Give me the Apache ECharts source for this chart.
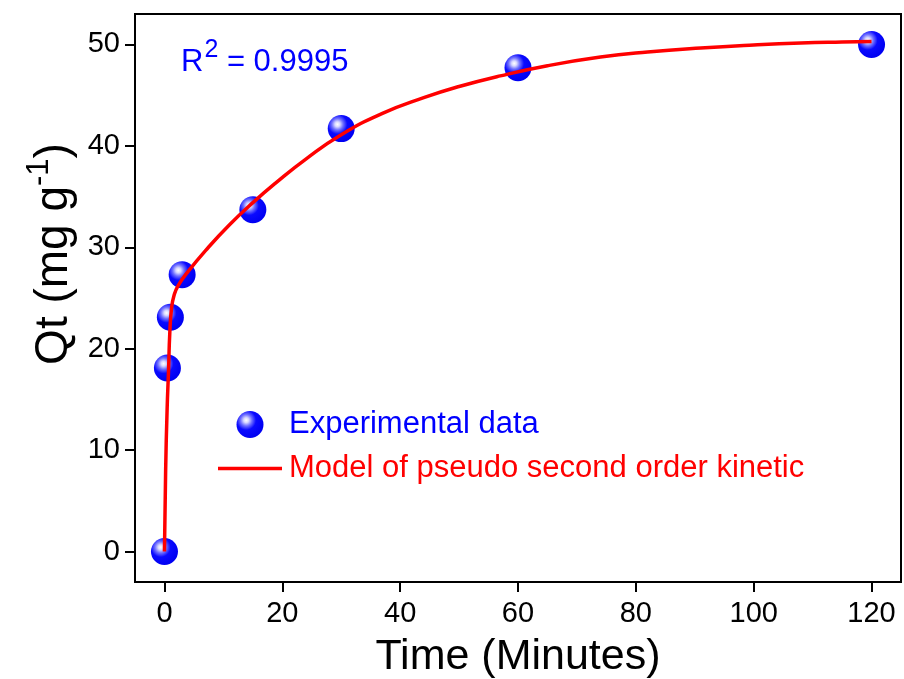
<!DOCTYPE html>
<html>
<head>
<meta charset="utf-8">
<script src="https://cdn.jsdelivr.net/npm/echarts@6/dist/echarts.min.js"></script>
<style>
  html, body { margin: 0; padding: 0; background: #ffffff; }
  #chart { width: 904px; height: 679px; }
</style>
</head>
<body>
<div id="chart"></div>
<script>
// Adsorption kinetics: measured uptake vs. contact time
const timeMinutes = [0, 0.5, 1, 3, 15, 30, 60, 120];
const qtMeasured = [0, 18.1, 23.1, 27.3, 33.7, 41.7, 47.7, 50.0];

// Fitted pseudo-second-order curve, sampled along the time axis
const modelTime = [0, 0.2, 0.45, 0.7, 0.9, 1.2, 1.6, 2.3, 4, 7, 11, 15, 19, 24, 30, 37, 44, 50, 57, 65, 74, 82, 91, 100, 108, 115, 120];
const modelQt = [0, 8, 14, 18, 21.5, 24, 25.2, 26.2, 27.6, 29.7, 32.2, 34.4, 36.4, 38.7, 41.1, 43.2, 44.75, 45.85, 46.9, 47.9, 48.75, 49.25, 49.65, 49.95, 50.15, 50.25, 50.3];

// Axis tick labels
const xTickValues = [0, 20, 40, 60, 80, 100, 120];
const yTickValues = [0, 10, 20, 30, 40, 50];

const seriesNames = ['Experimental data', 'Model of pseudo second order kinetic'];
const rSquared = '0.9995';

const FONT = "'Liberation Sans', Arial, sans-serif";
const BLUE = '#0000ff';
const RED = '#ff0000';

const pair = (xs, ys) => xs.map((x, i) => [x, ys[i]]);

const sphere = new echarts.graphic.RadialGradient(0.36, 0.34, 0.66, [
  { offset: 0, color: '#ffffff' },
  { offset: 0.14, color: '#d8d8ff' },
  { offset: 0.32, color: '#6f6fff' },
  { offset: 0.55, color: '#0a0aff' },
  { offset: 1, color: '#0000f2' }
]);

const chart = echarts.init(document.getElementById('chart'), null, { renderer: 'canvas' });

chart.setOption({
  animation: false,
  backgroundColor: '#ffffff',
  textStyle: { fontFamily: FONT },
  grid: {
    left: 135, right: 3, top: 14, bottom: 97,
    outerBoundsMode: 'none',
    containLabel: false,
    show: true, borderColor: '#000000', borderWidth: 2,
    backgroundColor: 'transparent'
  },
  title: {
    text: '{r|R}{s|2}{r| = ' + rSquared + '}',
    left: 176, top: 33,
    textStyle: {
      rich: {
        r: { fontFamily: FONT, fontSize: 31, fontWeight: 'normal', color: BLUE },
        s: { fontFamily: FONT, fontSize: 25, fontWeight: 'normal', color: BLUE, padding: [0, 0, 24, 1] }
      }
    }
  },
  legend: {
    orient: 'vertical',
    left: 218, top: 409,
    padding: 0,
    itemWidth: 64, itemHeight: 27, itemGap: 13,
    textStyle: { fontFamily: FONT, fontSize: 31, padding: [0, 0, 0, 2] },
    data: [
      { name: seriesNames[0], textStyle: { color: BLUE } },
      { name: seriesNames[1], icon: 'path://M0 0H64V3.5H0Z', itemStyle: { color: RED }, textStyle: { color: RED } }
    ]
  },
  xAxis: {
    type: 'value',
    min: -5, max: 125,
    splitLine: { show: false },
    axisLine: { onZero: false, lineStyle: { color: '#000', width: 2 } },
    axisTick: { length: 10, lineStyle: { color: '#000', width: 2 }, customValues: xTickValues },
    axisLabel: { customValues: xTickValues, color: '#000', fontSize: 29, fontFamily: FONT, margin: 17 },
    name: 'Time (Minutes)',
    nameLocation: 'middle',
    nameGap: 54,
    nameTextStyle: { color: '#000', fontSize: 43, fontFamily: FONT }
  },
  yAxis: {
    type: 'value',
    min: -3, max: 53,
    splitLine: { show: false },
    axisLine: { onZero: false, lineStyle: { color: '#000', width: 2 } },
    axisTick: { length: 10, lineStyle: { color: '#000', width: 2 }, customValues: yTickValues },
    axisLabel: { customValues: yTickValues, color: '#000', fontSize: 29, fontFamily: FONT, margin: 15 },
    name: '{b|Qt (mg g}{s|-1}{b|)}',
    nameLocation: 'middle',
    nameRotate: 90,
    nameGap: 50,
    nameTextStyle: {
      padding: [0, 0, 0, 88],
      rich: {
        b: { fontFamily: FONT, fontSize: 46, color: '#000' },
        s: { fontFamily: FONT, fontSize: 31, color: '#000', padding: [0, 0, 29, 0] }
      }
    }
  },
  series: [
    {
      name: seriesNames[0],
      type: 'scatter',
      data: pair(timeMinutes, qtMeasured),
      symbol: 'circle',
      symbolSize: 27,
      itemStyle: { color: sphere, opacity: 1 },
      z: 2
    },
    {
      name: seriesNames[1],
      type: 'line',
      data: pair(modelTime, modelQt),
      symbol: 'none',
      smooth: 0.5,
      lineStyle: { color: RED, width: 3.5 },
      itemStyle: { color: RED },
      z: 3
    }
  ]
});
</script>
</body>
</html>
